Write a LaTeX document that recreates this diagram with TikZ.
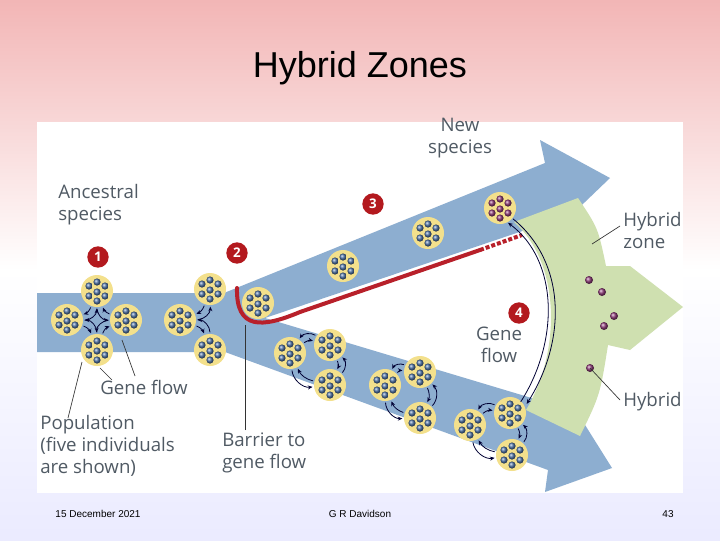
\documentclass[tikz,border=0pt]{standalone}
\usepackage{fontspec}
\setmainfont{Liberation Sans}
\newfontfamily\labfont{Open Sans}
\usetikzlibrary{arrows.meta}
\definecolor{bandblue}{HTML}{8DAED0}
\definecolor{hzgreen}{HTML}{CFE0B0}
\definecolor{popY}{HTML}{F3E08C}
\definecolor{dotB}{HTML}{4F74A8}
\definecolor{dotP}{HTML}{8E3A78}
\definecolor{numred}{HTML}{B3191E}
\definecolor{barred}{HTML}{B8202A}
\definecolor{txtgray}{HTML}{505A64}
\tikzset{
  pop/.style={circle,fill=popY,minimum size=24pt,inner sep=0pt},
  num/.style={circle,fill=numred,text=white,font=\labfont\bfseries\fontsize{10}{10}\selectfont,minimum size=16pt,inner sep=0pt},
  lab/.style={font=\labfont\fontsize{14}{16.5}\selectfont,text=txtgray,align=left,inner sep=0pt},
  gf/.style={-{Stealth[length=3.5pt,width=3pt]},draw=black!80!blue,line width=0.6pt,shorten <=1pt,shorten >=1pt},
  lead/.style={draw=black!80,line width=0.5pt},
}
\newcommand\popc[4]{%
  \node[pop] (#1) at (#2,#3) {};
  \foreach \dx/\dy in {-8/-5,0/-9,8/-5,-8/5,0/1,8/5,0/10}{%
    \shade[ball color=#4] (#2+\dx,#3+\dy) circle (3.6);}
}
\begin{document}
\begin{tikzpicture}[x=0.75pt,y=-0.75pt]
\useasboundingbox (0,0) rectangle (720,540);
\shade[top color=red!25!white!95!black, bottom color=blue!8!white, middle color=white] (0,0) rectangle (720,540);
\fill[white] (37,122) rectangle (683,493);
\node[font=\fontsize{27}{30}\selectfont] (title) at (360,68) {Hybrid Zones};
% bands
\fill[bandblue] (37,293) -- (224,293) -- (545,163) -- (540,140) -- (610,178) -- (560,226) -- (555,220) -- (265,318) -- (555,405) -- (560,385) -- (612,468) -- (545,492) -- (548,470) -- (225,352) -- (37,352) -- cycle;
% green hybrid zone
\fill[hzgreen] (514,222) -- (578,198) .. controls (598,228) .. (606,266) -- (630,266) -- (683,307) -- (630,350) -- (608,345) .. controls (600,395) .. (580,436) -- (526,410) .. controls (562,350) and (560,262) .. cycle;
% barrier
\draw[barred,line width=3pt,line cap=round] (237,288) .. controls (236,330) and (262,328) .. (300,312) -- (480,250);
\draw[barred,line width=3pt,dash pattern=on 3pt off 1.5pt] (480,250) -- (522,235);
% populations
\popc{a1}{97}{291}{dotB}\popc{a2}{67}{320}{dotB}\popc{a3}{126}{320}{dotB}\popc{a4}{97}{350}{dotB}
\popc{b1}{210}{289}{dotB}\popc{b2}{180}{320}{dotB}\popc{b3}{210}{350}{dotB}
\popc{s1}{258}{303}{dotB}
\popc{u1}{343}{266}{dotB}\popc{u2}{428}{233}{dotB}\popc{u3}{500}{208}{dotP}
\popc{c1}{290}{353}{dotB}\popc{c2}{330}{345}{dotB}\popc{c3}{330}{385}{dotB}
\popc{d1}{385}{385}{dotB}\popc{d2}{420}{372}{dotB}\popc{d3}{420}{418}{dotB}
\popc{e1}{470}{425}{dotB}\popc{e2}{510}{413}{dotB}\popc{e3}{512}{455}{dotB}
% gene flow small arrows
\foreach \p/\q in {a1/a2,a2/a4,a4/a3,a3/a1,b1/b2,b2/b3,c1/c2,c2/c3,c3/c1,d1/d2,d2/d3,d3/d1,e1/e2,e2/e3,e3/e1}{
  \draw[gf] (\p) to[bend left=25] (\q);
  \draw[gf] (\q) to[bend right=45] (\p);}
% big gene flow
\coordinate (gA) at (507,222);
\coordinate (gB) at (520,403);
\draw[gf] (gB) .. controls (560,340) and (558,260) .. (gA);
\draw[gf] (512,218) .. controls (566,262) and (567,340) .. (526,405);
% hybrid dots
\foreach \hx/\hy [count=\i] in {589/280,602/292,614/316,604/326,590/368}
  \shade[ball color=dotP] (\hx,\hy) circle (4) coordinate (h\i);
% numbers
\node[num] (n1) at (98,257) {1};
\node[num] (n2) at (237,253) {2};
\node[num] (n3) at (373,204) {3};
\node[num] (n4) at (519,313) {4};
% labels
\node[lab,anchor=north west] (anc) at (58,184) {Ancestral\\species};
\node[lab,anchor=north,align=center] (new) at (460,118) {New\\species};
\node[lab,anchor=north west] (hz) at (623,212) {Hybrid\\zone};
\node[lab,anchor=west] (hyb) at (623,402) {Hybrid};
\node[lab,anchor=north,align=center] (gf2) at (499,327) {Gene\\flow};
\node[lab,anchor=west] (gf1) at (100,387) {Gene flow};
\node[lab,anchor=north west] (popl) at (40,415) {Population\\(five individuals\\are shown)};
\node[lab,anchor=north west] (barl) at (222,433) {Barrier to\\gene flow};
% leaders
\draw[lead] (68,418) -- (82,362);
\draw[lead] (112,380) -- (100,368);
\draw[lead] (135,376) -- (122,340);
\draw[lead] (245,430) -- (245,325);
\draw[lead] (620,226) -- (592,244);
\draw[lead] (620,400) -- (h5);
% footer
\node[font=\fontsize{7.5}{9}\selectfont] (f1) at (98,514) {15 December 2021};
\node[font=\fontsize{7.5}{9}\selectfont] (f2) at (360,514) {G R Davidson};
\node[font=\fontsize{7.5}{9}\selectfont] (f3) at (668,514) {43};
\end{tikzpicture}
\end{document}
